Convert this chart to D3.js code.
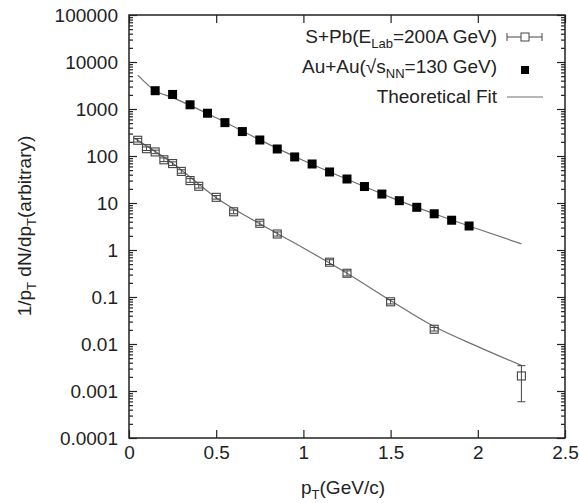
<!DOCTYPE html>
<html>
<head>
<meta charset="utf-8">
<script src="https://cdn.jsdelivr.net/npm/d3@7"></script>
<style>
  body { margin: 0; background: #fff; }
  svg { display: block; }
  text { font-family: "Liberation Sans", Arial, Helvetica, sans-serif; fill: #222; }
</style>
</head>
<body>
<svg id="chart" width="579" height="503"></svg>
<script>
// ---- data ----
const xTicks = [0, 0.5, 1, 1.5, 2, 2.5];
const xTickLabels = ["0", "0.5", "1", "1.5", "2", "2.5"];
const yTicks = [1e-4, 1e-3, 1e-2, 1e-1, 1, 10, 100, 1000, 10000, 100000];
const yTickLabels = ["0.0001", "0.001", "0.01", "0.1", "1", "10", "100", "1000", "10000", "100000"];

// S+Pb (open squares with error bars)
const sPbPt  = [0.05, 0.10, 0.15, 0.20, 0.25, 0.30, 0.35, 0.40, 0.50, 0.60, 0.75, 0.85, 1.15, 1.25, 1.50, 1.75, 2.25];
const sPbVal = [216, 143, 122, 83, 69, 47, 30, 22.7, 13.2, 6.5, 3.7, 2.19, 0.55, 0.32, 0.079, 0.0206, 0.00209];
const sPbLo  = [198, 131, 112, 76, 63, 43, 27.5, 20.8, 12.1, 5.9, 3.35, 1.98, 0.49, 0.28, 0.071, 0.0189, 0.00059];
const sPbHi  = [236, 156, 133, 91, 75, 51, 33, 24.7, 14.4, 7.1, 4.1, 2.42, 0.62, 0.36, 0.088, 0.0225, 0.00346];

// Au+Au (filled squares)
const auPt  = [0.15, 0.25, 0.35, 0.45, 0.55, 0.65, 0.75, 0.85, 0.95, 1.05, 1.15, 1.25, 1.35, 1.45, 1.55, 1.65, 1.75, 1.85, 1.95];
const auVal = [2450, 2040, 1230, 813, 513, 331, 219, 141, 95.5, 67.6, 45.7, 32.4, 22.4, 15.5, 11.2, 8.1, 5.9, 4.3, 3.24];

// Theoretical fit curves
const fitAuPt  = [0.05, 0.15, 0.25, 0.5, 0.75, 1.0, 1.25, 1.5, 1.75, 2.0, 2.25];
const fitAuVal = [5250, 2450, 1750, 650, 220, 80, 32, 13.2, 5.9, 2.8, 1.35];
const fitSPt   = [0.03, 0.25, 0.5, 0.75, 1.0, 1.25, 1.5, 1.75, 2.0, 2.25];
const fitSVal  = [240, 70, 13, 3.6, 1.1, 0.32, 0.084, 0.0235, 0.0088, 0.0035];

const legendLabels = ["S+Pb", "Au+Au", "Theoretical Fit"];

// ---- layout ----
const L = 129, R = 565, T = 15, B = 438;
const FS = "19px", SFS = "13px";
const svg = d3.select("#chart");
const x = d3.scaleLinear().domain([0, 2.5]).range([L, R]);
const y = d3.scaleLog().domain([1e-4, 1e5]).range([B, T]);

const minors = [];
for (let e = -4; e < 5; e++) for (let m = 2; m <= 9; m++) minors.push(m * Math.pow(10, e));

const axColor = "#222";
function styleAxis(g) {
  g.selectAll("path").remove();
  g.selectAll("line").attr("stroke", axColor).attr("stroke-width", 1.2);
  g.selectAll("text").style("font-size", FS).attr("fill", "#222")
    .style("font-family", '"Liberation Sans", Arial, sans-serif');
}

// left axis
svg.append("g").attr("transform", `translate(${L},0)`)
  .call(d3.axisLeft(y).tickValues(yTicks).tickSizeInner(-8).tickSizeOuter(0).tickPadding(11)
    .tickFormat((d, i) => yTickLabels[i]))
  .call(styleAxis);
svg.append("g").attr("transform", `translate(${L},0)`)
  .call(d3.axisLeft(y).tickValues(minors).tickSizeInner(-4).tickSizeOuter(0).tickFormat(""))
  .call(styleAxis);
// right axis
svg.append("g").attr("transform", `translate(${R},0)`)
  .call(d3.axisRight(y).tickValues(yTicks).tickSizeInner(-8).tickSizeOuter(0).tickFormat(""))
  .call(styleAxis);
svg.append("g").attr("transform", `translate(${R},0)`)
  .call(d3.axisRight(y).tickValues(minors).tickSizeInner(-4).tickSizeOuter(0).tickFormat(""))
  .call(styleAxis);
// bottom axis
svg.append("g").attr("transform", `translate(0,${B})`)
  .call(d3.axisBottom(x).tickValues(xTicks).tickSizeInner(-8).tickSizeOuter(0).tickPadding(8)
    .tickFormat((d, i) => xTickLabels[i]))
  .call(styleAxis);
// top axis
svg.append("g").attr("transform", `translate(0,${T})`)
  .call(d3.axisTop(x).tickValues(xTicks).tickSizeInner(-8).tickSizeOuter(0).tickFormat(""))
  .call(styleAxis);

// frame
svg.append("rect").attr("x", L).attr("y", T).attr("width", R - L).attr("height", B - T)
  .attr("fill", "none").attr("stroke", axColor).attr("stroke-width", 1.5);

// fit lines
const line = d3.line().x(d => x(d[0])).y(d => y(d[1])).curve(d3.curveMonotoneX);
const fitColor = "#707070";
svg.append("path").datum(fitAuPt.map((p, i) => [p, fitAuVal[i]]))
  .attr("d", line).attr("fill", "none").attr("stroke", fitColor).attr("stroke-width", 1.2);
svg.append("path").datum(fitSPt.map((p, i) => [p, fitSVal[i]]))
  .attr("d", line).attr("fill", "none").attr("stroke", fitColor).attr("stroke-width", 1.2);

// S+Pb error bars and open squares
const sData = sPbPt.map((p, i) => ({ p, v: sPbVal[i], lo: sPbLo[i], hi: sPbHi[i] }));
const eg = svg.append("g").attr("stroke", "#444").attr("stroke-width", 1);
eg.selectAll("line.v").data(sData).join("line")
  .attr("x1", d => x(d.p)).attr("x2", d => x(d.p))
  .attr("y1", d => y(d.lo)).attr("y2", d => y(d.hi));
eg.selectAll("line.t").data(sData).join("line")
  .attr("x1", d => x(d.p) - 4).attr("x2", d => x(d.p) + 4)
  .attr("y1", d => y(d.hi)).attr("y2", d => y(d.hi));
eg.selectAll("line.b").data(sData).join("line")
  .attr("x1", d => x(d.p) - 4).attr("x2", d => x(d.p) + 4)
  .attr("y1", d => y(d.lo)).attr("y2", d => y(d.lo));
svg.append("g").selectAll("rect").data(sData).join("rect")
  .attr("x", d => x(d.p) - 4).attr("y", d => y(d.v) - 4)
  .attr("width", 8).attr("height", 8)
  .attr("fill", "none").attr("stroke", "#444").attr("stroke-width", 1.1);

// Au+Au filled squares
svg.append("g").selectAll("rect").data(auPt.map((p, i) => ({ p, v: auVal[i] }))).join("rect")
  .attr("x", d => x(d.p) - 4.5).attr("y", d => y(d.v) - 4.5)
  .attr("width", 9).attr("height", 9).attr("fill", "#000");

// legend
const lg = svg.append("g");
const tx = 497;
const t1 = lg.append("text").attr("x", tx).attr("y", 43).attr("text-anchor", "end").style("font-size", FS);
t1.append("tspan").text(legendLabels[0] + "(E");
t1.append("tspan").attr("dy", 5).style("font-size", SFS).text("Lab");
t1.append("tspan").attr("dy", -5).text("=200A GeV)");
const t2 = lg.append("text").attr("x", tx).attr("y", 73).attr("text-anchor", "end").style("font-size", FS);
t2.append("tspan").text(legendLabels[1] + "(\u221As");
t2.append("tspan").attr("dy", 5).style("font-size", SFS).text("NN");
t2.append("tspan").attr("dy", -5).text("=130 GeV)");
lg.append("text").attr("x", tx).attr("y", 103).attr("text-anchor", "end").style("font-size", FS)
  .text(legendLabels[2]);
// legend symbols
lg.append("line").attr("x1", 507).attr("x2", 542).attr("y1", 37).attr("y2", 37).attr("stroke", "#444");
lg.append("line").attr("x1", 507).attr("x2", 507).attr("y1", 33).attr("y2", 41).attr("stroke", "#444");
lg.append("line").attr("x1", 542).attr("x2", 542).attr("y1", 33).attr("y2", 41).attr("stroke", "#444");
lg.append("rect").attr("x", 521).attr("y", 33).attr("width", 8).attr("height", 8)
  .attr("fill", "#fff").attr("stroke", "#444");
lg.append("rect").attr("x", 521).attr("y", 66).attr("width", 8).attr("height", 8).attr("fill", "#000");
lg.append("line").attr("x1", 507).attr("x2", 543).attr("y1", 97).attr("y2", 97)
  .attr("stroke", fitColor).attr("stroke-width", 1.2);

// axis titles
const xt = svg.append("text").attr("x", 343).attr("y", 494).attr("text-anchor", "middle").style("font-size", FS);
xt.append("tspan").text("p");
xt.append("tspan").attr("dy", 5).style("font-size", SFS).text("T");
xt.append("tspan").attr("dy", -5).text("(GeV/c)");

const yt = svg.append("text").attr("transform", "translate(31,226) rotate(-90)")
  .attr("text-anchor", "middle").style("font-size", FS);
yt.append("tspan").text("1/p");
yt.append("tspan").attr("dy", 5).style("font-size", SFS).text("T");
yt.append("tspan").attr("dy", -5).text(" dN/dp");
yt.append("tspan").attr("dy", 5).style("font-size", SFS).text("T");
yt.append("tspan").attr("dy", -5).text("(arbitrary)");
</script>
</body>
</html>
